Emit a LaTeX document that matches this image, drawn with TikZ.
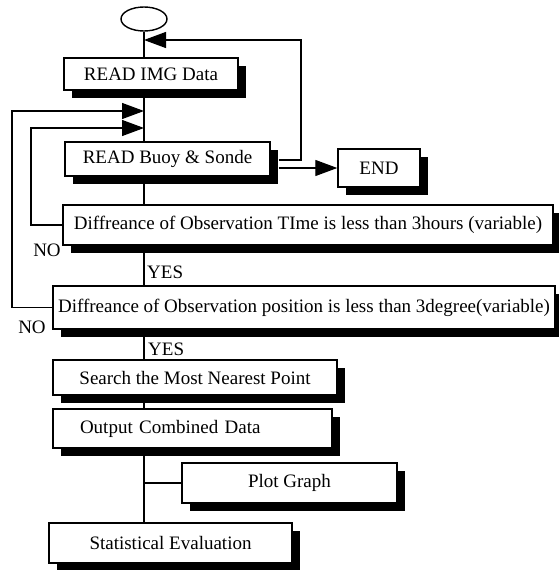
\documentclass[tikz,border=0pt]{standalone}
\usepackage{fontspec}
\setmainfont{Liberation Serif}
\usetikzlibrary{arrows.meta,shapes.geometric,shadows,backgrounds}

\begin{document}
\begin{tikzpicture}[x=1pt,y=1pt,
  font=\fontsize{19}{22}\selectfont,
  box/.style={draw=black, line width=1.4pt, fill=white, rectangle, inner sep=0pt,
     general shadow={fill=black, shadow xshift=8pt, shadow yshift=-8pt}},
  conn/.style={line width=1.2pt},
  arr/.style={conn, -{Triangle[length=22pt,width=16pt]}},
  lbl/.style={inner sep=0pt}
]
\useasboundingbox (0,0) rectangle (559,-570);

\node[ellipse, draw, line width=1.4pt, minimum width=46pt, minimum height=24pt, inner sep=0pt] (start) at (144,-19) {};
\node[box, minimum width=174pt, minimum height=32pt] (img) at (151,-74) {READ IMG Data};
\node[box, minimum width=205pt, minimum height=34pt] (buoy) at (167.5,-159) {READ Buoy \& Sonde};
\node[box, minimum width=82pt, minimum height=38pt] (end) at (379,-168) {END};
\node[box, minimum width=490pt, minimum height=40pt] (time) at (308,-225) {Diffreance of Observation TIme is less than 3hours (variable)};
\node[box, minimum width=502pt, minimum height=43pt] (pos) at (304,-307.5) {Diffreance of Observation position is less than 3degree(variable)};
\node[box, minimum width=284pt, minimum height=35pt] (search) at (195,-377.5) {Search the Most Nearest Point};
\node[box, minimum width=279pt, minimum height=39pt, text width=225pt, align=left, inner xsep=27pt] (out) at (192.5,-428.5) {Output Combined Data};
\node[box, minimum width=215pt, minimum height=40pt] (plot) at (289.5,-483) {Plot Graph};
\node[box, minimum width=243pt, minimum height=40pt] (stat) at (170.5,-543) {Statistical Evaluation};

\coordinate (m) at (144,0);
\coordinate (bE) at ([xshift=8pt]buoy.east);
\coordinate (ret) at (301,-40);
\coordinate (o1) at (12,-111);
\coordinate (o2) at (31,-128);

\begin{pgfonlayer}{background}
\draw[conn] (start.south) -- (m |- img.north);
\draw[conn] (m |- img.south) -- (m |- buoy.north);
\draw[conn] (m |- buoy.south) -- (m |- time.north);
\draw[conn] (m |- time.south) -- (m |- pos.north);
\draw[conn] (m |- pos.south) -- (m |- search.north);
\draw[conn] (m |- search.south) -- (m |- out.north);
\draw[conn] (m |- out.south) -- (m |- stat.north);
\end{pgfonlayer}

\draw[arr] ([yshift=-1pt]bE) -| (ret) -- (m |- ret);
\draw[arr] (bE |- end.west) -- (end.west);
\draw[arr] (pos.west) -| (o1) -- (m |- o1);
\draw[arr] (time.west) -| (o2) -- (m |- o2);
\draw[conn] (m |- plot.west) -- (plot.west);

\node[lbl] (no1) at (47,-250) {NO};
\node[lbl] (no2) at (32,-327) {NO};
\node[lbl, anchor=west] (yes1) at (147,-272) {YES};
\node[lbl, anchor=west] (yes2) at (148,-349) {YES};
\end{tikzpicture}
\end{document}
